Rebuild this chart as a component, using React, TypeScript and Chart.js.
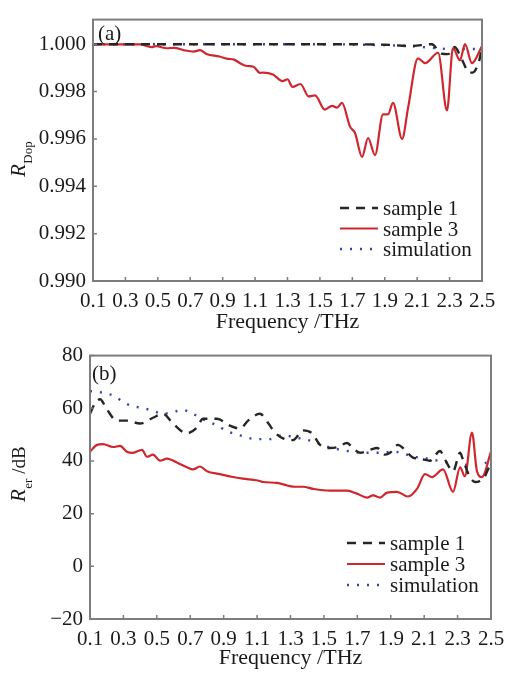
import React, { useEffect, useRef } from "react";
import { Chart, registerables } from "chart.js";
Chart.register(...registerables);

const FONT = '"Liberation Serif", "Times New Roman", serif';

// ---- shared ticks / labels ----
const xTicks = [0.1, 0.3, 0.5, 0.7, 0.9, 1.1, 1.3, 1.5, 1.7, 1.9, 2.1, 2.3, 2.5];
const xTickLabels = ["0.1", "0.3", "0.5", "0.7", "0.9", "1.1", "1.3", "1.5", "1.7", "1.9", "2.1", "2.3", "2.5"];
const legendLabels = ["sample 1", "sample 3", "simulation"];
const xTitle = "Frequency /THz";

// ---- panel (a) ----
const aYTicks = [0.99, 0.992, 0.994, 0.996, 0.998, 1.0];
const aYTickLabels = ["0.990", "0.992", "0.994", "0.996", "0.998", "1.000"];

const aS1Freq = [0.1, 0.5, 1.0, 1.5, 1.9, 2.06, 2.19, 2.25, 2.29, 2.33, 2.38, 2.42, 2.44, 2.48, 2.5];
const aS1Val = [1.0, 1.0, 1.0, 1.0, 0.99998, 0.99992, 1.0, 0.9996, 0.99958, 0.99988, 0.9993, 0.9988, 0.9988, 0.99924, 0.99984];

const aS3Freq = [0.1, 0.39, 0.46, 0.49, 0.555, 0.6, 0.66, 0.72, 0.76, 0.8, 0.88, 0.925, 0.97, 1.01, 1.05, 1.09, 1.13, 1.15, 1.21, 1.27, 1.3, 1.33, 1.38, 1.43, 1.47, 1.53, 1.575, 1.605, 1.636, 1.686, 1.717, 1.76, 1.797, 1.84, 1.889, 1.92, 1.951, 2.007, 2.044, 2.105, 2.149, 2.229, 2.284, 2.321, 2.364, 2.395, 2.438, 2.5];
const aS3Val = [0.99999, 0.99999, 0.99988, 0.99992, 0.99983, 0.99985, 0.99975, 0.99969, 0.99975, 0.99959, 0.99948, 0.99939, 0.99935, 0.99919, 0.99908, 0.99905, 0.99879, 0.9988, 0.99872, 0.99844, 0.99852, 0.9982, 0.99832, 0.9978, 0.99784, 0.99724, 0.9974, 0.99732, 0.99752, 0.99652, 0.99624, 0.99524, 0.99604, 0.99532, 0.99704, 0.99704, 0.99752, 0.996, 0.99732, 0.9994, 0.9992, 0.99964, 0.9972, 0.99984, 0.99932, 1.0, 0.9992, 0.99992];

const aSimFreq = [0.1, 0.5, 1.0, 1.5, 1.9, 2.06, 2.2, 2.3, 2.5];
const aSimVal = [1.0, 1.0, 1.0, 1.0, 0.99996, 0.99992, 0.99984, 0.9998, 0.9998];

// ---- panel (b) ----
const bYTicks = [-20, 0, 20, 40, 60, 80];
const bYTickLabels = ["\u221220", "0", "20", "40", "60", "80"];

const bS1Freq = [0.1, 0.13, 0.16, 0.2, 0.26, 0.32, 0.4, 0.477, 0.537, 0.597, 0.68, 0.74, 0.776, 0.86, 0.938, 0.998, 1.046, 1.117, 1.165, 1.207, 1.255, 1.315, 1.375, 1.429, 1.477, 1.536, 1.584, 1.638, 1.674, 1.716, 1.776, 1.818, 1.866, 1.896, 1.943, 1.985, 2.033, 2.075, 2.135, 2.195, 2.225, 2.273, 2.315, 2.332, 2.374, 2.404, 2.434, 2.464, 2.482, 2.5];
const bS1Val = [57.9, 61.9, 63.4, 59.7, 55.3, 55.3, 54.2, 56.4, 57.9, 54.2, 50.5, 52.7, 56.0, 56.0, 53.4, 52.3, 55.3, 57.9, 54.5, 50.8, 48.6, 47.9, 51.6, 50.5, 46.1, 44.9, 45.3, 46.8, 44.9, 43.1, 44.2, 44.9, 42.4, 43.1, 46.1, 44.2, 41.3, 40.9, 40.1, 43.8, 40.5, 36.1, 43.1, 40.5, 33.9, 32.0, 32.4, 34.2, 36.8, 38.5];

const bS3Freq = [0.1, 0.142, 0.178, 0.238, 0.28, 0.321, 0.357, 0.411, 0.441, 0.477, 0.519, 0.56, 0.62, 0.68, 0.716, 0.758, 0.8, 0.878, 0.956, 1.04, 1.117, 1.135, 1.219, 1.285, 1.327, 1.375, 1.435, 1.536, 1.638, 1.698, 1.758, 1.794, 1.836, 1.878, 1.937, 2.003, 2.057, 2.105, 2.147, 2.213, 2.273, 2.315, 2.344, 2.386, 2.416, 2.446, 2.5];
const bS3Val = [43.5, 46.1, 46.4, 45.3, 45.7, 43.5, 43.1, 44.2, 41.6, 42.4, 40.1, 40.9, 39.4, 37.6, 36.8, 37.9, 36.1, 35.0, 33.9, 33.1, 32.4, 32.0, 31.7, 30.6, 30.2, 30.2, 29.4, 28.7, 28.7, 27.6, 26.1, 26.9, 26.1, 28.0, 28.3, 26.5, 29.4, 35.0, 33.9, 36.8, 28.3, 37.6, 34.2, 50.8, 36.1, 33.9, 43.5];

const bSimFreq = [0.1, 0.142, 0.2, 0.25, 0.3, 0.357, 0.417, 0.477, 0.537, 0.597, 0.657, 0.716, 0.77, 0.836, 0.938, 0.998, 1.058, 1.117, 1.177, 1.25, 1.297, 1.357, 1.429, 1.489, 1.548, 1.608, 1.668, 1.734, 1.794, 1.848, 1.907, 1.967, 2.033, 2.093, 2.147, 2.213, 2.273, 2.332, 2.416, 2.476, 2.5];
const bSimVal = [66.5, 66.3, 65.6, 64.5, 62.3, 60.8, 60.1, 59.0, 57.9, 58.6, 59.3, 57.9, 56.0, 54.2, 50.9, 49.7, 48.6, 48.3, 48.3, 49.7, 49.4, 48.6, 47.5, 46.1, 44.9, 44.2, 43.5, 43.1, 43.1, 43.1, 43.5, 43.1, 41.6, 41.3, 40.5, 39.8, 39.0, 38.7, 38.3, 39.4, 39.5];

// ---- styles ----
const S1_COLOR = "#262626";
const S3_COLOR = "#d0262d";
const SIM_COLOR = "#3343a8";
const S1_DASH = [9, 7];
const SIM_DASH = [2, 8];

const pts = (xs: number[], ys: number[]) => xs.map((x, i) => ({ x, y: ys[i] }));

const decorPlugin = {
  id: "decor",
  afterDraw(chart: any, _args: any, o: any) {
    const { ctx, chartArea: ca, scales } = chart;
    ctx.save();
    // frame
    ctx.strokeStyle = "#7d7d7d";
    ctx.lineWidth = 2;
    ctx.setLineDash([]);
    ctx.strokeRect(ca.left, ca.top, ca.right - ca.left, ca.bottom - ca.top);
    // inward ticks
    ctx.lineWidth = 1.5;
    ctx.beginPath();
    scales.x.ticks.forEach((t: any) => {
      const px = scales.x.getPixelForValue(t.value);
      ctx.moveTo(px, ca.bottom);
      ctx.lineTo(px, ca.bottom - 4);
    });
    scales.y.ticks.forEach((t: any) => {
      const py = scales.y.getPixelForValue(t.value);
      ctx.moveTo(ca.left, py);
      ctx.lineTo(ca.left + 4, py);
    });
    ctx.stroke();

    ctx.fillStyle = "#1a1a1a";
    ctx.textBaseline = "alphabetic";
    // panel label
    ctx.font = `21px ${FONT}`;
    ctx.textAlign = "left";
    ctx.fillText(o.panel, ca.left + o.panelDx, ca.top + o.panelDy);
    // x title
    ctx.font = `22px ${FONT}`;
    ctx.textAlign = "center";
    ctx.fillText(xTitle, (ca.left + ca.right) / 2, o.xTitleY);
    // y title (rotated)
    ctx.save();
    ctx.translate(o.yTitleX, o.yTitleY);
    ctx.rotate(-Math.PI / 2);
    ctx.textAlign = "left";
    ctx.font = `italic 21px ${FONT}`;
    ctx.fillText("R", 0, 0);
    let w = ctx.measureText("R").width + 0.5;
    ctx.font = `13px ${FONT}`;
    ctx.fillText(o.ySub, w, 7);
    w += ctx.measureText(o.ySub).width;
    if (o.yRest) {
      ctx.font = `19px ${FONT}`;
      ctx.fillText(o.yRest, w, 0);
    }
    ctx.restore();
    // legend
    const styles = [
      { c: S1_COLOR, d: S1_DASH, lw: 2.4 },
      { c: S3_COLOR, d: [], lw: 2.2 },
      { c: SIM_COLOR, d: SIM_DASH, lw: 2.4 },
    ];
    ctx.font = `21px ${FONT}`;
    ctx.textAlign = "left";
    legendLabels.forEach((lab, i) => {
      const y = o.legY + i * o.legStep;
      ctx.strokeStyle = styles[i].c;
      ctx.lineWidth = styles[i].lw;
      ctx.setLineDash(styles[i].d);
      ctx.beginPath();
      ctx.moveTo(o.legX0, y);
      ctx.lineTo(o.legX1, y);
      ctx.stroke();
      ctx.setLineDash([]);
      ctx.fillStyle = "#1a1a1a";
      ctx.fillText(lab, o.legTextX, y + 7);
    });
    ctx.restore();
  },
};

function buildConfig(p: any) {
  const tickFont = { family: FONT, size: 21 };
  return {
    type: "line",
    data: {
      datasets: [
        {
          label: legendLabels[0],
          data: p.s1,
          borderColor: S1_COLOR,
          borderWidth: 2.4,
          borderDash: S1_DASH,
          pointRadius: 0,
          cubicInterpolationMode: "monotone",
          fill: false,
        },
        {
          label: legendLabels[1],
          data: p.s3,
          borderColor: S3_COLOR,
          borderWidth: 2.2,
          pointRadius: 0,
          cubicInterpolationMode: "monotone",
          fill: false,
        },
        {
          label: legendLabels[2],
          data: p.sim,
          borderColor: SIM_COLOR,
          borderWidth: 2.4,
          borderDash: SIM_DASH,
          pointRadius: 0,
          cubicInterpolationMode: "monotone",
          fill: false,
        },
      ],
    },
    options: {
      responsive: false,
      animation: false,
      events: [],
      layout: { padding: { left: 0, top: p.padTop, right: p.padRight, bottom: 0 } },
      plugins: {
        legend: { display: false },
        tooltip: { enabled: false },
        title: { display: false },
        decor: p.decor,
      },
      scales: {
        x: {
          type: "linear",
          min: 0.1,
          max: 2.5,
          grid: { display: false, drawTicks: false },
          border: { display: false },
          afterBuildTicks: (s: any) => {
            s.ticks = xTicks.map((v) => ({ value: v }));
          },
          afterFit: (s: any) => {
            s.height = p.xH;
          },
          ticks: {
            font: tickFont,
            color: "#1a1a1a",
            padding: 8,
            autoSkip: false,
            maxRotation: 0,
            callback: (_v: any, i: number) => xTickLabels[i],
          },
        },
        y: {
          type: "linear",
          min: p.yMin,
          max: p.yMax,
          grid: { display: false, drawTicks: false },
          border: { display: false },
          afterBuildTicks: (s: any) => {
            s.ticks = p.yTicks.map((v: number) => ({ value: v }));
          },
          afterFit: (s: any) => {
            s.width = p.yW;
          },
          ticks: {
            font: tickFont,
            color: "#1a1a1a",
            padding: 7,
            autoSkip: false,
            callback: (_v: any, i: number) => p.yTickLabels[i],
          },
        },
      },
    },
    plugins: [decorPlugin],
  };
}

function Panel({ top, height, cfg }: { top: number; height: number; cfg: any }) {
  const ref = useRef<HTMLCanvasElement | null>(null);
  useEffect(() => {
    if (!ref.current) return;
    const chart = new Chart(ref.current, buildConfig(cfg) as any);
    return () => chart.destroy();
  }, []);
  return (
    <canvas
      ref={ref}
      width={518}
      height={height}
      style={{ position: "absolute", left: 0, top, width: 518, height, display: "block" }}
    />
  );
}

export default function App() {
  const cfgA = {
    s1: pts(aS1Freq, aS1Val),
    s3: pts(aS3Freq, aS3Val),
    sim: pts(aSimFreq, aSimVal),
    yMin: 0.99,
    yMax: 1.00104,
    yTicks: aYTicks,
    yTickLabels: aYTickLabels,
    padTop: 7,
    padRight: 36,
    yW: 93,
    xH: 55,
    decor: {
      panel: "(a)",
      panelDx: 5,
      panelDy: 20,
      xTitleY: 328,
      yTitleX: 25,
      yTitleY: 177,
      ySub: "Dop",
      yRest: "",
      legX0: 340,
      legX1: 378,
      legTextX: 383,
      legY: 208,
      legStep: 20.5,
    },
  };
  const cfgB = {
    s1: pts(bS1Freq, bS1Val),
    s3: pts(bS3Freq, bS3Val),
    sim: pts(bSimFreq, bSimVal),
    yMin: -20,
    yMax: 80,
    yTicks: bYTicks,
    yTickLabels: bYTickLabels,
    padTop: 12,
    padRight: 27,
    yW: 90,
    xH: 54,
    decor: {
      panel: "(b)",
      panelDx: 2,
      panelDy: 24,
      xTitleY: 664 - 336,
      yTitleX: 25,
      yTitleY: 502 - 336,
      ySub: "er",
      yRest: " /dB",
      legX0: 347,
      legX1: 385,
      legTextX: 390,
      legY: 543 - 336,
      legStep: 21,
    },
  };
  return (
    <div style={{ position: "absolute", left: 0, top: 0, width: 518, height: 673, background: "#fff" }}>
      <Panel top={0} height={336} cfg={cfgA} />
      <Panel top={336} height={337} cfg={cfgB} />
    </div>
  );
}
